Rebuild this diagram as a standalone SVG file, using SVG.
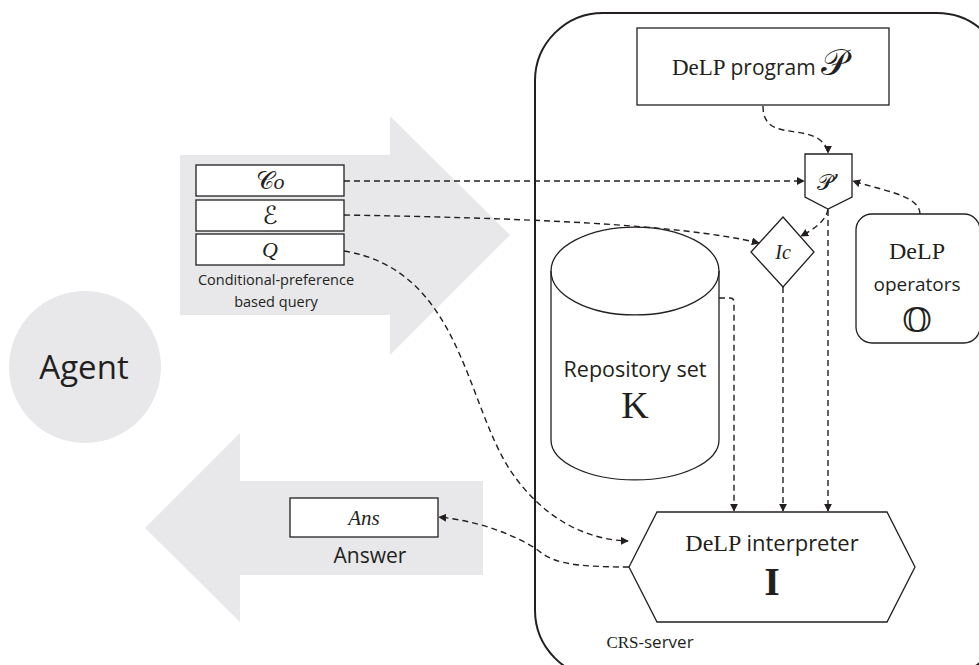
<svg xmlns="http://www.w3.org/2000/svg" width="979" height="665" viewBox="0 0 979 665">
<defs>
<marker id="ah" viewBox="0 0 10 10" refX="9" refY="5" markerWidth="8" markerHeight="8" markerUnits="userSpaceOnUse" orient="auto">
<path d="M0,0 L10,5 L0,10 Z" fill="#231f20"/>
</marker>
<style>
.bg{fill:#e8e8ea}
.box{fill:#fff;stroke:#231f20;stroke-width:1.3}
.sans{font-family:"Open Sans","Noto Sans",sans-serif;fill:#231f20}
.serif{font-family:"Liberation Serif","DejaVu Serif",serif;fill:#231f20}
.math{font-family:"Liberation Serif","DejaVu Serif",serif;font-style:italic;fill:#231f20}
.cal{font-family:"DejaVu Serif","DejaVu Sans","Noto Sans",serif;fill:#231f20}
.conn{fill:none;stroke:#231f20;stroke-width:1.4;stroke-dasharray:6,4;marker-end:url(#ah)}
</style>
</defs>
<rect width="979" height="665" fill="#fff"/>

<g id="agent">
<circle class="bg" cx="85" cy="367" r="76"/>
<text class="sans" x="84" y="379" font-size="33" text-anchor="middle">Agent</text>
</g>

<g id="query-arrow">
<polygon class="bg" points="180,155 390,155 390,116 510,235 390,355 390,315 180,315"/>
</g>
<g id="answer-arrow">
<polygon class="bg" points="483,481 240,481 240,433 145,528 240,622 240,575 483,575"/>
</g>

<g id="server">
<rect x="535" y="13" width="470" height="665" rx="68" fill="none" stroke="#231f20" stroke-width="2"/>
<text x="650" y="648" text-anchor="middle" font-size="17"><tspan class="serif">CRS</tspan><tspan class="sans">-server</tspan></text>
</g>

<g id="co">
<rect class="box" x="196" y="165" width="148" height="31"/>
<text class="cal" x="270" y="189" font-size="25" text-anchor="middle">𝒞<tspan class="math" font-size="22">o</tspan></text>
</g>
<g id="e">
<rect class="box" x="196" y="200" width="148" height="31"/>
<text class="cal" x="270" y="224" font-size="25" text-anchor="middle">ℰ</text>
</g>
<g id="q">
<rect class="box" x="196" y="234" width="148" height="31"/>
<text class="math" x="270" y="257" font-size="22" text-anchor="middle">Q</text>
</g>
<g id="query-label">
<text class="sans" x="276" y="285" font-size="14.5" text-anchor="middle">Conditional-preference</text>
<text class="sans" x="276" y="307" font-size="14.5" text-anchor="middle">based query</text>
</g>

<g id="ans">
<rect class="box" x="290" y="498" width="148" height="39"/>
<text class="math" x="364" y="525" font-size="21" text-anchor="middle">Ans</text>
<text class="sans" x="370" y="563" font-size="21" text-anchor="middle">Answer</text>
</g>

<g id="program">
<rect class="box" x="637" y="28" width="252" height="77"/>
<text x="760" y="75" text-anchor="middle"><tspan class="serif" font-size="23">DeLP </tspan><tspan class="sans" font-size="21">program </tspan><tspan class="cal" font-size="37">𝒫</tspan></text>
</g>

<g id="pprime">
<polygon class="box" points="805,154 852,154 852,197 828,209 805,197"/>
<text class="cal" x="828" y="190" font-size="22" text-anchor="middle">𝒫’</text>
</g>

<g id="ic">
<polygon class="box" points="783,217 814,252 783,287 751,252"/>
<text class="math" x="783" y="259" font-size="20" text-anchor="middle">Ic</text>
</g>

<g id="operators">
<rect class="box" x="856" y="214" width="124" height="129" rx="16"/>
<text class="serif" x="917" y="259" font-size="24" text-anchor="middle">DeLP</text>
<text class="sans" x="917" y="291" font-size="19" text-anchor="middle">operators</text>
<text class="cal" x="917" y="332" font-size="34" text-anchor="middle">𝕆</text>
</g>

<g id="repository">
<path class="box" d="M551,271 A84,44 0 0 1 719,271 L719,440 A84,40 0 0 1 551,440 Z"/>
<path d="M551,271 A84,44 0 0 0 719,271" fill="none" stroke="#231f20" stroke-width="1.3"/>
<text class="sans" x="635" y="377" font-size="21.5" text-anchor="middle">Repository set</text>
<text class="serif" x="635" y="418" font-size="38" text-anchor="middle">K</text>
</g>

<g id="interpreter">
<polygon class="box" points="657,512 887,512 915,567 887,622 657,622 629,567"/>
<text x="772" y="551" text-anchor="middle"><tspan class="serif" font-size="24">DeLP </tspan><tspan class="sans" font-size="22">interpreter</tspan></text>
<text class="serif" x="772" y="595" font-size="40" font-weight="bold" text-anchor="middle">I</text>
</g>

<g id="connectors">
<path class="conn" d="M344,181 L804,181"/>
<path class="conn" d="M344,215 C520,218 680,224 759,243"/>
<path class="conn" d="M344,251 C460,270 465,400 510,470 C545,522 590,540 628,541"/>
<path class="conn" d="M629,567 C560,567 550,560 535,548 C505,530 470,520 439,517"/>
<path class="conn" d="M763,106 C763,140 800,125 820,140 C826,145 828,150 828,153"/>
<path class="conn" d="M920,214 C920,195 880,190 853,181"/>
<path class="conn" d="M828,209 C826,222 812,230 801,236"/>
<path class="conn" d="M828,210 L828,511"/>
<path class="conn" d="M783,287 L783,511"/>
<path class="conn" d="M719,298 L730,298 Q734,298 734,302 L734,511"/>
</g>
</svg>
